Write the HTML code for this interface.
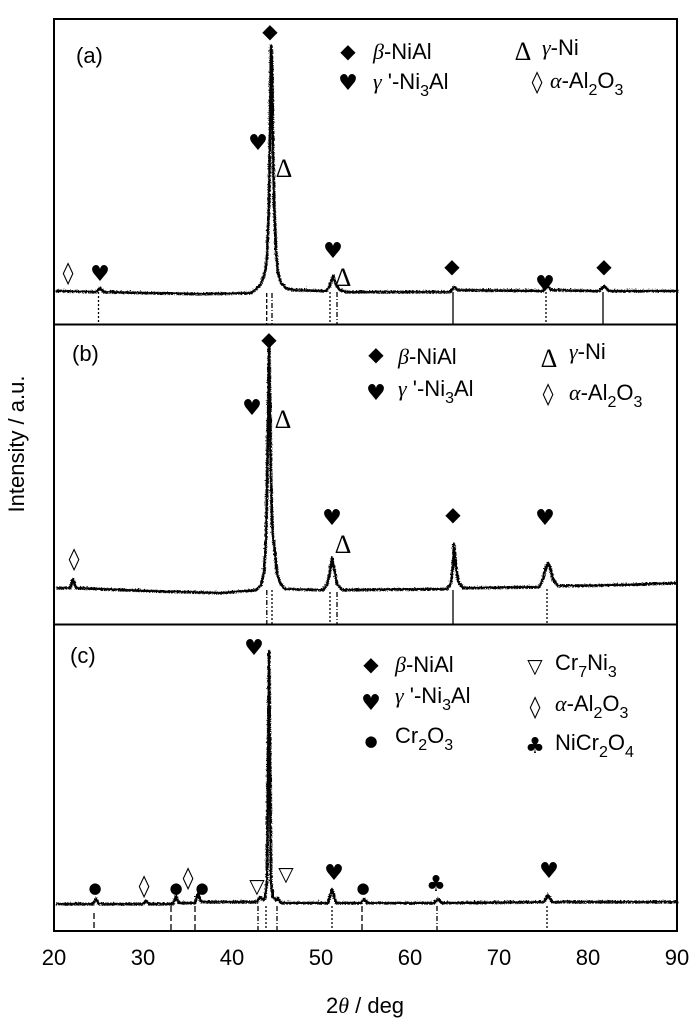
<!DOCTYPE html>
<html><head><meta charset="utf-8"><style>
html,body{margin:0;padding:0;background:#fff;}
svg{display:block;}
text{font-family:"Liberation Sans",sans-serif;fill:#000;}
.g{font-family:"Liberation Serif",serif;font-style:italic;}
.s,.s text{font-family:"DejaVu Sans",sans-serif;}
.s text.d,text.d{font-family:"Liberation Serif",serif;}
</style></head><body>
<svg width="700" height="1026" viewBox="0 0 700 1026" xmlns="http://www.w3.org/2000/svg">
<defs>
<filter id="n" filterUnits="userSpaceOnUse" x="40" y="0" width="650" height="940">
<feTurbulence type="turbulence" baseFrequency="0.7 0.5" numOctaves="1" seed="3" result="t"/>
<feDisplacementMap in="SourceGraphic" in2="t" scale="3" xChannelSelector="R" yChannelSelector="G"/>
</filter>
</defs>
<rect x="0" y="0" width="700" height="1026" fill="#fff"/>
<g fill="none" stroke="#000" stroke-width="2.8" stroke-linejoin="round" filter="url(#n)">
<path d="M55 290 L95 291 L99 287 L103 291 L150 292 L200 293 L250 292 L255 288 L260 283 L264 271 L266 256 L268 200 L269 120 L270 45 L271 60 L272 150 L273 200 L275 250 L277 272 L280 282 L285 287 L292 289 L325 290 L329 285 L332 275 L335 284 L339 289 L345 291 L449 291 L453 286 L457 289 L542 290 L546 284 L550 289 L598 290 L603 285 L608 290 L677 290"/>
<path d="M55 587 L69 587 L72 578 L75 587 L150 590 L220 592 L255 589 L260 584 L263 571 L265 540 L267 420 L268 343 L269 400 L270 480 L271 520 L272 535 L274 552 L276 572 L279 582 L284 588 L322 589 L326 584 L329 570 L331 557 L333 567 L336 583 L341 589 L446 588 L450 582 L452 565 L453 543 L455 565 L457 580 L462 587 L538 586 L542 578 L545 566 L547 562 L549 566 L552 578 L557 585 L620 584 L677 582"/>
<path d="M55 903 L92 903 L95 898 L98 903 L142 903 L145 900 L148 903 L172 903 L175 895 L178 902 L194 902 L197 892 L200 901 L256 901 L259 896 L262 899 L264 897 L266 880 L267 750 L268 650 L269 760 L270 880 L272 896 L275 899 L277 897 L280 902 L327 902 L331 888 L335 902 L360 902 L363 898 L366 902 L433 902 L437 898 L441 902 L543 901 L547 894 L551 901 L677 901"/>
</g>
<g stroke="#000" stroke-width="1.3" fill="none">
<line x1="98.5" y1="292" x2="98.5" y2="324" stroke-dasharray="2 2"/>
<line x1="266.7" y1="293" x2="266.7" y2="324" stroke-dasharray="4 2"/>
<line x1="272" y1="293" x2="272" y2="324" stroke-dasharray="5 2 1 2"/>
<line x1="330" y1="292" x2="330" y2="324" stroke-dasharray="2 2"/>
<line x1="337" y1="292" x2="337" y2="324" stroke-dasharray="5 2 1 2"/>
<line x1="453" y1="292" x2="453" y2="324"/>
<line x1="546" y1="292" x2="546" y2="324" stroke-dasharray="2 2"/>
<line x1="603" y1="292" x2="603" y2="324"/>
<line x1="266.8" y1="590" x2="266.8" y2="624" stroke-dasharray="5 2 1 2"/>
<line x1="272" y1="590" x2="272" y2="624" stroke-dasharray="2 2"/>
<line x1="330" y1="592" x2="330" y2="624" stroke-dasharray="2 2"/>
<line x1="337" y1="592" x2="337" y2="624" stroke-dasharray="5 2 1 2"/>
<line x1="453" y1="590" x2="453" y2="624"/>
<line x1="547" y1="589" x2="547" y2="624" stroke-dasharray="2 2"/>
<line x1="94" y1="913" x2="94" y2="931" stroke-dasharray="6 3"/>
<line x1="171" y1="906" x2="171" y2="931" stroke-dasharray="6 3"/>
<line x1="195" y1="906" x2="195" y2="931" stroke-dasharray="6 3"/>
<line x1="258" y1="906" x2="258" y2="931" stroke-dasharray="5 2 1 2"/>
<line x1="266" y1="906" x2="266" y2="931" stroke-dasharray="2 2"/>
<line x1="277" y1="906" x2="277" y2="931" stroke-dasharray="5 2 1 2"/>
<line x1="332" y1="906" x2="332" y2="931" stroke-dasharray="2 2"/>
<line x1="362" y1="906" x2="362" y2="931" stroke-dasharray="6 3"/>
<line x1="437" y1="906" x2="437" y2="931" stroke-dasharray="5 2 1 2"/>
<line x1="547" y1="906" x2="547" y2="931" stroke-dasharray="2 2"/>
</g>
<rect x="54" y="19" width="623" height="912" fill="none" stroke="#000" stroke-width="2"/>
<line x1="54" y1="324.5" x2="677" y2="324.5" stroke="#000" stroke-width="2"/>
<line x1="54" y1="624.5" x2="677" y2="624.5" stroke="#000" stroke-width="2"/>

<g font-size="22" text-anchor="middle">
<text x="54" y="965">20</text><text x="143" y="965">30</text><text x="232" y="965">40</text>
<text x="321" y="965">50</text><text x="410" y="965">60</text><text x="499" y="965">70</text>
<text x="588" y="965">80</text><text x="677" y="965">90</text>
<text x="365" y="1013">2<tspan class="g">θ</tspan> / deg</text>
<text transform="translate(24,444) rotate(-90)">Intensity / a.u.</text>
</g>

<g font-size="22">
<text x="76" y="63">(a)</text>
<text x="72" y="361">(b)</text>
<text x="70" y="663">(c)</text>
</g>

<g font-size="22">
<text x="373" y="59"><tspan class="g">β</tspan>-NiAl</text>
<text x="542" y="55"><tspan class="g">γ</tspan>-Ni</text>
<text x="373" y="89"><tspan class="g">γ</tspan> '-Ni<tspan font-size="16" dy="7">3</tspan><tspan dy="-7">Al</tspan></text>
<text x="550" y="88"><tspan class="g">α</tspan>-Al<tspan font-size="16" dy="7">2</tspan><tspan dy="-7">O</tspan><tspan font-size="16" dy="7">3</tspan></text>
<text x="398" y="364"><tspan class="g">β</tspan>-NiAl</text>
<text x="569" y="359"><tspan class="g">γ</tspan>-Ni</text>
<text x="398" y="396"><tspan class="g">γ</tspan> '-Ni<tspan font-size="16" dy="7">3</tspan><tspan dy="-7">Al</tspan></text>
<text x="569" y="400"><tspan class="g">α</tspan>-Al<tspan font-size="16" dy="7">2</tspan><tspan dy="-7">O</tspan><tspan font-size="16" dy="7">3</tspan></text>
<text x="395" y="672"><tspan class="g">β</tspan>-NiAl</text>
<text x="395" y="703"><tspan class="g">γ</tspan> '-Ni<tspan font-size="16" dy="7">3</tspan><tspan dy="-7">Al</tspan></text>
<text x="395" y="743">Cr<tspan font-size="16" dy="7">2</tspan><tspan dy="-7">O</tspan><tspan font-size="16" dy="7">3</tspan></text>
<text x="555" y="670">Cr<tspan font-size="16" dy="7">7</tspan><tspan dy="-7">Ni</tspan><tspan font-size="16" dy="7">3</tspan></text>
<text x="555" y="711"><tspan class="g">α</tspan>-Al<tspan font-size="16" dy="7">2</tspan><tspan dy="-7">O</tspan><tspan font-size="16" dy="7">3</tspan></text>
<text x="555" y="750">NiCr<tspan font-size="16" dy="7">2</tspan><tspan dy="-7">O</tspan><tspan font-size="16" dy="7">4</tspan></text>
</g>

<g class="s" font-size="22" text-anchor="middle">
<!-- legend symbols -->
<text x="348" y="58" font-size="20">◆</text>
<text class="d" x="523" y="60" font-size="26">Δ</text>
<text x="348" y="90">♥</text>
<text x="537" y="89" font-size="22">◊</text>
<text x="376" y="361" font-size="20">◆</text>
<text class="d" x="549" y="367" font-size="26">Δ</text>
<text x="376" y="400">♥</text>
<text x="548" y="401" font-size="22">◊</text>
<text x="371" y="671" font-size="20">◆</text>
<text x="371" y="710">♥</text>
<text x="371" y="746" font-size="15">●</text>
<text x="535" y="673" font-size="20">▽</text>
<text x="535" y="714" font-size="22">◊</text>
<text x="535" y="753">♣</text>
<!-- peak markers -->
<text x="270" y="38" font-size="20">◆</text>
<text x="258" y="150">♥</text>
<text class="d" x="284" y="177" font-size="26">Δ</text>
<text x="68" y="280">◊</text>
<text x="100" y="281">♥</text>
<text x="333" y="258">♥</text>
<text class="d" x="343" y="286" font-size="26">Δ</text>
<text x="452" y="273" font-size="20">◆</text>
<text x="545" y="291">♥</text>
<text x="604" y="273" font-size="20">◆</text>
<text x="269" y="346" font-size="20">◆</text>
<text x="252" y="415">♥</text>
<text class="d" x="283" y="428" font-size="26">Δ</text>
<text x="332" y="525">♥</text>
<text class="d" x="343" y="553" font-size="26">Δ</text>
<text x="453" y="521" font-size="20">◆</text>
<text x="545" y="525">♥</text>
<text x="74" y="566">◊</text>
<text x="254" y="655">♥</text>
<text x="95" y="893" font-size="15">●</text>
<text x="144" y="893">◊</text>
<text x="176" y="893" font-size="15">●</text>
<text x="188" y="885">◊</text>
<text x="202" y="893" font-size="15">●</text>
<text x="257" y="893" font-size="20">▽</text>
<text x="286" y="881" font-size="20">▽</text>
<text x="334" y="880">♥</text>
<text x="363" y="893" font-size="15">●</text>
<text x="436" y="891">♣</text>
<text x="549" y="878">♥</text>
</g>
</svg>
</body></html>
